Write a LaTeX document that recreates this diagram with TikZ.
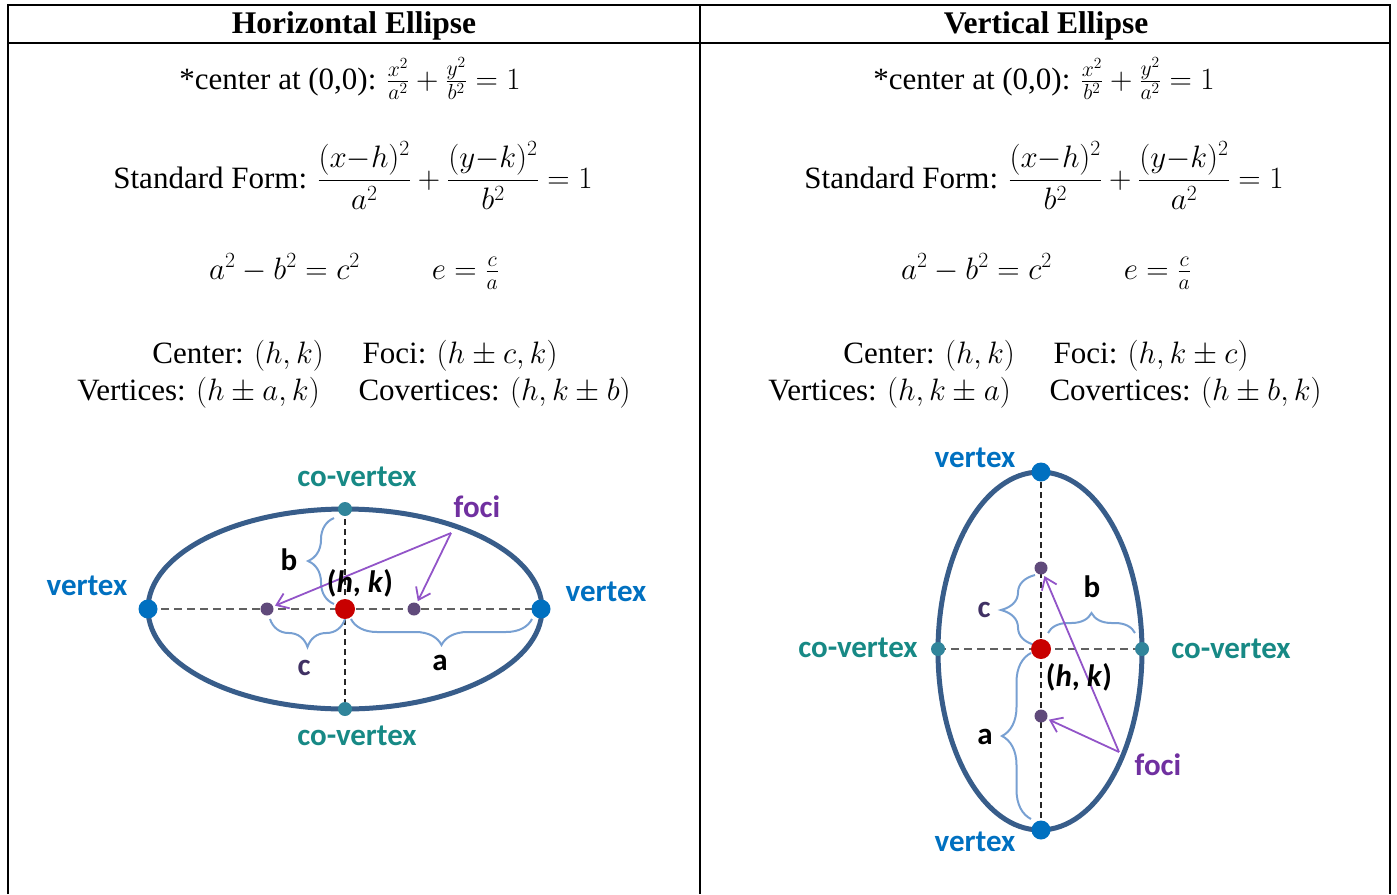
\RequirePackage{fix-cm}
\documentclass[tikz,border=0pt]{standalone}
\usepackage{amsmath,amssymb}
\usepackage{fontspec}
\setmainfont{Liberation Serif}
\newfontfamily\lblfont{Carlito}
\usetikzlibrary{arrows.meta,decorations.pathreplacing}

\definecolor{rimblue}{RGB}{56,93,138}
\definecolor{vertblue}{RGB}{0,112,192}
\definecolor{covteal}{RGB}{49,133,155}
\definecolor{covtext}{RGB}{23,137,133}
\definecolor{focdot}{RGB}{96,74,123}
\definecolor{focpurple}{RGB}{112,48,160}
\definecolor{focarrow}{RGB}{146,84,200}
\definecolor{ctrred}{RGB}{200,0,0}
\definecolor{bracecol}{RGB}{120,160,210}
\definecolor{cpurple}{RGB}{64,49,100}

\tikzset{
  cell/.style={font=\fontsize{31}{37}\selectfont, inner sep=0pt, anchor=base},
  head/.style={font=\fontsize{31.5}{37}\selectfont\bfseries, inner sep=0pt, anchor=base},
  lbl/.style={font=\lblfont\fontsize{31}{36}\selectfont\bfseries, inner sep=0pt},
  rim/.style={draw=rimblue, line width=5pt},
  vxdot/.style={circle, fill=vertblue, inner sep=0pt, minimum size=19pt},
  cvdot/.style={circle, fill=covteal, inner sep=0pt, minimum size=14pt},
  fcdot/.style={circle, fill=focdot, inner sep=0pt, minimum size=13pt},
  hkdot/.style={circle, fill=ctrred, inner sep=0pt, minimum size=20pt},
  horizdash/.style={draw=black!62, line width=2.5pt, dash pattern=on 8pt off 5pt},
  vertdash/.style={draw=black!85, line width=2pt, dash pattern=on 6pt off 4pt},
  bracket/.style={draw=bracecol, line width=2pt, decorate, decoration={brace, amplitude=#1}},
  bracket/.default=26pt,
  fociarrow/.style={draw=focarrow, line width=1.8pt, shorten >=2pt, -{Straight Barb[length=11pt,width=16pt]}},
}

\begin{document}
\begin{tikzpicture}[x=1pt, y=-1pt]
  \useasboundingbox (0,0) rectangle (1397,894);

  \draw[line width=2pt] (8,894) -- (8,5) -- (1390,5) -- (1390,894);
  \draw[line width=2pt] (8,43) -- (1390,43);
  \draw[line width=2pt] (700,5) -- (700,894);

  \node[head] (hhead) at (354,33) {Horizontal Ellipse};
  \node[head] (vhead) at (1046,33) {Vertical Ellipse};

  \node[cell] (horig) at (350,89) {*center at (0,0): $\tfrac{x^2}{a^2}+\tfrac{y^2}{b^2}=1$};
  \node[cell] (hstd) at (353,188) {Standard Form: $\dfrac{(x{-}h)^2}{a^2}+\dfrac{(y{-}k)^2}{b^2}=1$};
  \node[cell] (hrel) at (354,279) {$a^2-b^2=c^2$\hspace{72pt}$e=\tfrac{c}{a}$};
  \node[cell] (hctr) at (355,363) {Center: $(h,k)$\quad\ Foci: $(h\pm c,k)$};
  \node[cell] (hvtx) at (354,400) {Vertices: $(h\pm a,k)$\quad\ Covertices: $(h,k\pm b)$};

  \node[cell] (vorig) at (1044,89) {*center at (0,0): $\tfrac{x^2}{b^2}+\tfrac{y^2}{a^2}=1$};
  \node[cell] (vstd) at (1044,188) {Standard Form: $\dfrac{(x{-}h)^2}{b^2}+\dfrac{(y{-}k)^2}{a^2}=1$};
  \node[cell] (vrel) at (1046,279) {$a^2-b^2=c^2$\hspace{72pt}$e=\tfrac{c}{a}$};
  \node[cell] (vctr) at (1046,363) {Center: $(h,k)$\quad\ Foci: $(h,k\pm c)$};
  \node[cell] (vvtx) at (1045,400) {Vertices: $(h,k\pm a)$\quad\ Covertices: $(h\pm b,k)$};

  \coordinate (HC) at (345,609);
  \coordinate (HV1) at (148,609);
  \coordinate (HV2) at (541,609);
  \coordinate (HW1) at (345,509);
  \coordinate (HW2) at (345,709);
  \coordinate (HF1) at (267,609);
  \coordinate (HF2) at (414,609);
  \coordinate (HT) at (451,533);

  \draw[rim] (HC) ellipse [x radius=197pt, y radius=100pt];
  \draw[horizdash] (HV1) -- (HV2);
  \draw[vertdash] (HW1) -- (HW2);
  \draw[bracket] (334,604) -- (334,518);
  \draw[bracket=28pt] (345,619) -- (270,619);
  \draw[bracket] (532,619) -- (351,619);
  \node[vxdot] (hv1) at (HV1) {};
  \node[vxdot] (hv2) at (HV2) {};
  \node[cvdot] (hw1) at (HW1) {};
  \node[cvdot] (hw2) at (HW2) {};
  \node[fcdot] (hf1) at (HF1) {};
  \node[fcdot] (hf2) at (HF2) {};
  \node[hkdot] (hc) at (HC) {};
  \draw[fociarrow] (HT) -- (hf1);
  \draw[fociarrow] (HT) -- (hf2);
  \node[lbl, text=covtext] (hwlab1) at (357,477) {co-vertex};
  \node[lbl, text=covtext] (hwlab2) at (357,736) {co-vertex};
  \node[lbl, text=vertblue] (hvlab1) at (87,586) {vertex};
  \node[lbl, text=vertblue] (hvlab2) at (606,592) {vertex};
  \node[lbl, text=focpurple] (hflab) at (477,507) {foci};
  \node[lbl] (hclab) at (360,583) {(\textit{h}, \textit{k})};
  \node[lbl] (hb) at (289,560) {b};
  \node[lbl, text=cpurple] (hcc) at (304,668) {c};
  \node[lbl] (ha) at (440,663) {a};

  \coordinate (VC) at (1041,649);
  \coordinate (VV1) at (1041,472);
  \coordinate (VV2) at (1041,830);
  \coordinate (VW1) at (938,649);
  \coordinate (VW2) at (1142,649);
  \coordinate (VF1) at (1041,568);
  \coordinate (VF2) at (1041,716);
  \coordinate (VT) at (1119,752);

  \draw[rim] (1040,651) ellipse [x radius=102pt, y radius=179pt];
  \draw[vertdash] (VV1) -- (VV2);
  \draw[horizdash] (VW1) -- (VW2);
  \draw[bracket=34pt] (1035,645) -- (1035,575);
  \draw[bracket=20pt] (1048,633) -- (1135,633);
  \draw[bracket=29pt] (1031,819) -- (1031,653);
  \node[vxdot] (vv1) at (VV1) {};
  \node[vxdot] (vv2) at (VV2) {};
  \node[cvdot] (vw1) at (VW1) {};
  \node[cvdot] (vw2) at (VW2) {};
  \node[fcdot] (vf1) at (VF1) {};
  \node[fcdot] (vf2) at (VF2) {};
  \node[hkdot] (vc) at (VC) {};
  \draw[fociarrow] (VT) -- (vf1);
  \draw[fociarrow] (VT) -- (vf2);
  \node[lbl, text=vertblue] (vvlab1) at (975,458) {vertex};
  \node[lbl, text=vertblue] (vvlab2) at (975,842) {vertex};
  \node[lbl, text=covtext] (vwlab1) at (858,648) {co-vertex};
  \node[lbl, text=covtext] (vwlab2) at (1231,649) {co-vertex};
  \node[lbl, text=focpurple] (vflab) at (1158,765) {foci};
  \node[lbl] (vclab) at (1079,677) {(\textit{h}, \textit{k})};
  \node[lbl, text=cpurple] (vcc) at (984,610) {c};
  \node[lbl] (vb) at (1092,587) {b};
  \node[lbl] (va) at (985,737) {a};
\end{tikzpicture}
\end{document}
